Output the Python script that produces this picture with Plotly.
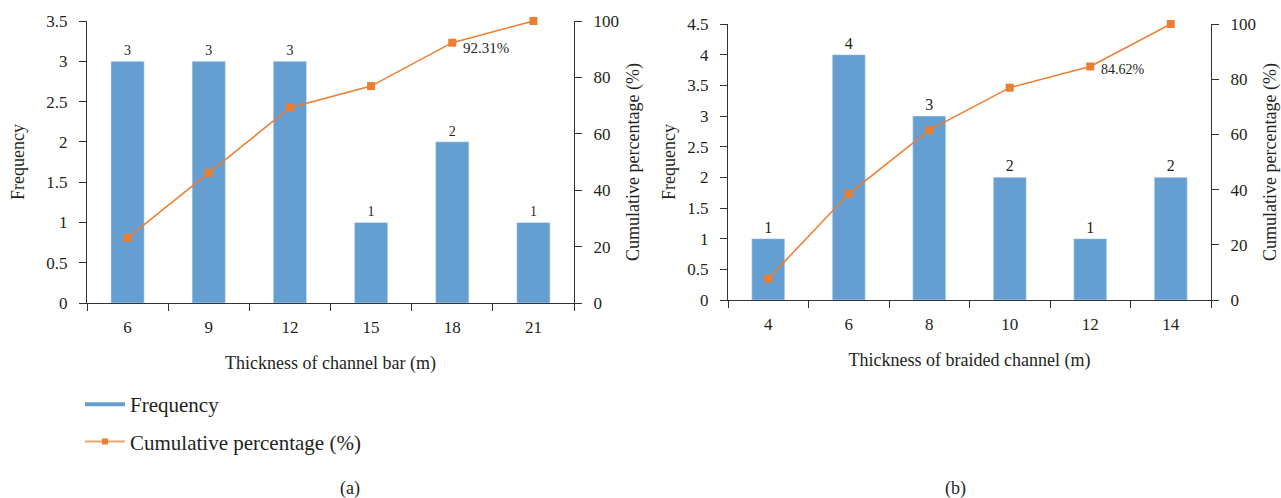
import plotly.graph_objects as go
from plotly.subplots import make_subplots

# ---- data ----
cats_a = ["6", "9", "12", "15", "18", "21"]
freq_a = [3, 3, 3, 1, 2, 1]
cum_a = [23.08, 46.15, 69.23, 76.92, 92.31, 100.0]

cats_b = ["4", "6", "8", "10", "12", "14"]
freq_b = [1, 4, 3, 2, 1, 2]
cum_b = [7.69, 38.46, 61.54, 76.92, 84.62, 100.0]

label_a = ("18", 92.31, "92.31%")
label_b = ("12", 84.62, "84.62%")

BAR = "#659fd2"
ORANGE = "#ed7d31"
FONT = "Liberation Serif"
AX = "#333333"
TXT = "#231f20"

fig = make_subplots(rows=1, cols=2, specs=[[{"secondary_y": True}, {"secondary_y": True}]])

for col, cats, freq, cum, lsize in [(1, cats_a, freq_a, cum_a, 14), (2, cats_b, freq_b, cum_b, 16)]:
    fig.add_trace(go.Bar(x=cats, y=freq, marker_color=BAR, width=0.41,
                         text=freq, textposition="outside", cliponaxis=False,
                         textfont=dict(family=FONT, size=lsize, color=TXT),
                         showlegend=False, name="Frequency"),
                  row=1, col=col, secondary_y=False)
    fig.add_trace(go.Scatter(x=cats, y=cum, mode="lines+markers",
                             line=dict(color=ORANGE, width=1.5),
                             marker=dict(symbol="square", size=8, color=ORANGE),
                             showlegend=False, name="Cumulative percentage (%)", cliponaxis=False),
                  row=1, col=col, secondary_y=True)

# legend entries
fig.add_trace(go.Scatter(x=[None], y=[None], mode="lines", line=dict(color=BAR, width=4),
                         name="Frequency", legendgroup="f"), row=1, col=1)
fig.add_trace(go.Scatter(x=[None], y=[None], mode="lines+markers",
                         line=dict(color="#f4a46e", width=2),
                         marker=dict(symbol="square", size=6, color=ORANGE),
                         name="Cumulative percentage (%)", legendgroup="c"), row=1, col=1)

tickfont = dict(family=FONT, size=17, color=TXT)
titlefont = dict(family=FONT, size=18, color=TXT)

common_x = dict(type="category", showline=True, linecolor=AX, linewidth=1.3,
                ticks="outside", tickson="boundaries", ticklen=7, tickcolor=AX,
                tickfont=tickfont, showgrid=False, zeroline=False, range=[-0.5, 5.5],
                tickangle=0, automargin=False, ticklabelstandoff=8)
common_y = dict(showline=True, linecolor=AX, linewidth=1.3, ticks="outside",
                ticklen=7, tickcolor=AX, tickfont=tickfont, showgrid=False, zeroline=False,
                automargin=False, ticklabelstandoff=8)

W, H = 1281, 498
def px(x):
    return x / W
def py(y):
    return 1 - y / H

fig.update_layout(
    xaxis=dict(domain=[px(87), px(574)], title=dict(text="Thickness of channel bar (m)", font=titlefont, standoff=20), **common_x),
    yaxis=dict(domain=[py(303), py(21)], range=[0, 3.5], dtick=0.5, title=dict(text="Frequency", font=titlefont, standoff=16), **common_y),
    yaxis2=dict(range=[0, 100], dtick=20, title=dict(text="Cumulative percentage (%)", font=titlefont, standoff=8), **common_y),
    xaxis2=dict(domain=[px(728), px(1211)], title=dict(text="Thickness of braided channel (m)", font=titlefont, standoff=20), **common_x),
    yaxis3=dict(domain=[py(300), py(24)], range=[0, 4.5], dtick=0.5, title=dict(text="Frequency", font=titlefont, standoff=6), **common_y),
    yaxis4=dict(range=[0, 100], dtick=20, title=dict(text="Cumulative percentage (%)", font=titlefont, standoff=17), **common_y),
)
fig.update_layout(yaxis2=dict(overlaying="y", side="right", anchor="x"),
                  yaxis4=dict(overlaying="y3", side="right", anchor="x2"))

fig.add_annotation(x=cats_a.index(label_a[0]), y=label_a[1], xref="x", yref="y2", text=label_a[2],
                   showarrow=False, xanchor="left", xshift=9, yshift=-5,
                   font=dict(family=FONT, size=15, color=TXT))
fig.add_annotation(x=cats_b.index(label_b[0]), y=label_b[1], xref="x2", yref="y4", text=label_b[2],
                   showarrow=False, xanchor="left", xshift=9, yshift=-3,
                   font=dict(family=FONT, size=14, color=TXT))

fig.add_annotation(x=px(338), y=py(488), xref="paper", yref="paper", text="(a)",
                   showarrow=False, yanchor="middle", font=dict(family=FONT, size=18, color=TXT))
fig.add_annotation(x=px(968), y=py(488), xref="paper", yref="paper", text="(b)",
                   showarrow=False, yanchor="middle", font=dict(family=FONT, size=18, color=TXT))

fig.update_layout(
    width=W, height=H, margin=dict(l=0, r=0, t=0, b=0, autoexpand=False),
    plot_bgcolor="white", paper_bgcolor="white",
    legend=dict(x=px(80), y=py(384), xanchor="left", yanchor="top",
                font=dict(family=FONT, size=21, color=TXT),
                tracegroupgap=7, bgcolor="rgba(0,0,0,0)", itemwidth=40),
    font=dict(family=FONT),
)

fig.write_html("out.html", config={"displayModeBar": False},
               post_script="document.body.style.margin='0px';document.body.style.overflow='hidden';")
